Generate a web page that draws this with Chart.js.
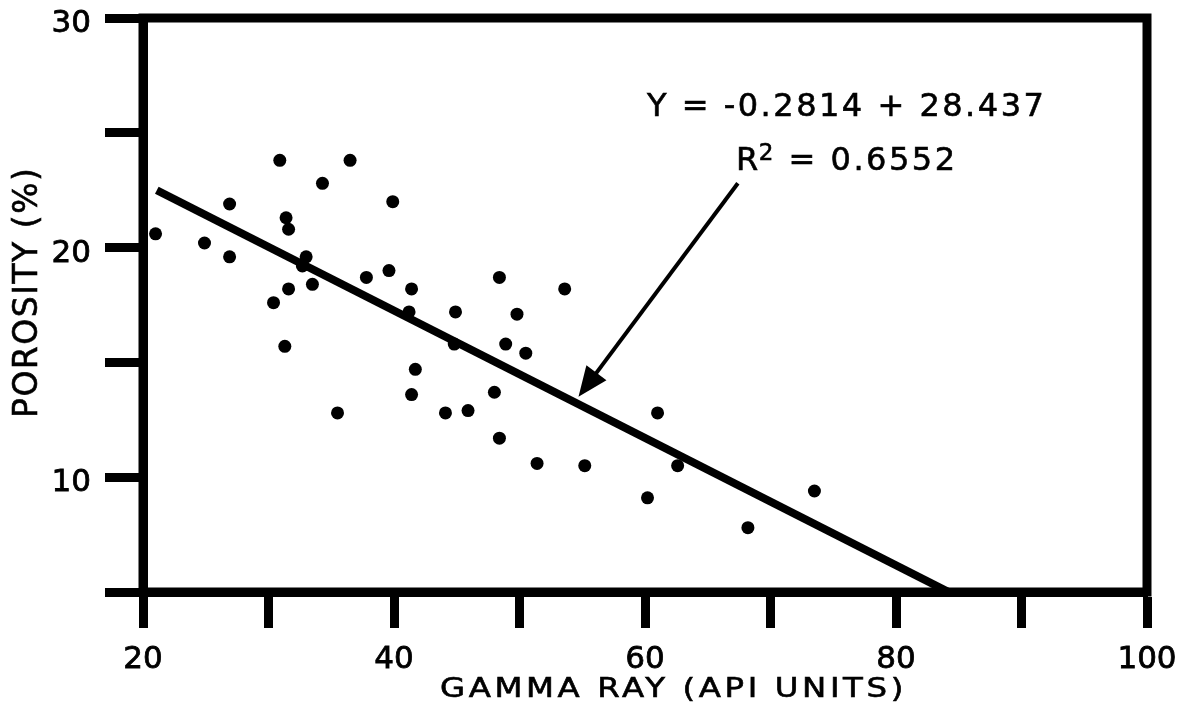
<!DOCTYPE html>
<html>
<head>
<meta charset="utf-8">
<script src="https://cdn.jsdelivr.net/npm/chart.js@4.4.1/dist/chart.umd.min.js"></script>
<style>
  html,body{margin:0;padding:0;background:#fff;}
  #wrap{width:1193px;height:728px;}
</style>
</head>
<body>
<div id="wrap"><canvas id="chart" width="1193" height="728"></canvas></div>
<script>
/* DATA: gamma ray (API units) vs porosity (%) */
const gammaRay = [21.0, 24.9, 26.9, 26.9, 30.9, 31.4, 31.6, 33.0, 32.7, 33.5,
                  31.6, 30.4, 31.3, 34.3, 36.5, 35.5, 37.8, 39.6, 39.9, 41.4,
                  41.2, 41.7, 41.4, 44.9, 44.8, 44.1, 45.9, 48.4, 49.8, 48.9,
                  50.5, 48.0, 48.4, 53.6, 51.4, 55.2, 61.0, 62.6, 60.2, 68.2, 73.5];
const porosity = [20.6, 20.2, 21.9, 19.6, 23.8, 21.3, 20.8, 19.6, 19.2, 18.4,
                  18.2, 17.6, 15.7, 22.8, 23.8, 12.8, 18.7, 19.0, 22.0, 18.2,
                  17.2, 14.7, 13.6, 17.2, 15.8, 12.8, 12.9, 18.7, 17.1, 15.8,
                  15.4, 13.7, 11.7, 18.2, 10.6, 10.5, 12.8, 10.5, 9.1, 7.8, 9.4];

/* regression line end points */
const fitX = [21.1, 84.2];
const fitY = [22.5, 5.0];

/* arrow from the label to the line */
const arrowX = [67.4, 54.7];
const arrowY = [22.8, 13.5];

/* ticks */
const xTicks = [20, 40, 60, 80, 100];
const yTicks = [10, 20, 30];

const equationText = 'Y = -0.2814 + 28.437';
const r2Value = '0.6552';
const xTitle = 'GAMMA RAY (API UNITS)';
const yTitle = 'POROSITY (%)';

const FONT = "'DejaVu Sans', 'Liberation Sans', sans-serif";

const points = gammaRay.map((x,i)=> ({x, y: porosity[i]}));
const fitLine = fitX.map((x,i)=> ({x, y: fitY[i]}));

/* frame, arrow and texts */
const annot = {
  id: 'annot',
  afterDatasetsDraw(chart){
    const ctx = chart.ctx, xs = chart.scales.x, ys = chart.scales.y;
    const x0 = xs.getPixelForValue(arrowX[0]), y0 = ys.getPixelForValue(arrowY[0]);
    const x1 = xs.getPixelForValue(arrowX[1]), y1 = ys.getPixelForValue(arrowY[1]);
    const ang = Math.atan2(y1 - y0, x1 - x0);
    const headLen = 30, headHalf = 12.5;
    ctx.save();
    ctx.strokeStyle = '#000';
    ctx.fillStyle = '#000';
    ctx.lineWidth = 4;
    ctx.beginPath();
    ctx.moveTo(x0, y0);
    ctx.lineTo(x1 - Math.cos(ang)*headLen*0.8, y1 - Math.sin(ang)*headLen*0.8);
    ctx.stroke();
    ctx.beginPath();
    ctx.moveTo(x1, y1);
    ctx.lineTo(x1 - Math.cos(ang)*headLen - Math.sin(ang)*headHalf, y1 - Math.sin(ang)*headLen + Math.cos(ang)*headHalf);
    ctx.lineTo(x1 - Math.cos(ang)*headLen + Math.sin(ang)*headHalf, y1 - Math.sin(ang)*headLen - Math.cos(ang)*headHalf);
    ctx.closePath();
    ctx.fill();
    ctx.restore();
  },
  afterDraw(chart){
    const ctx = chart.ctx, a = chart.chartArea;
    ctx.save();
    // frame
    ctx.strokeStyle = '#000';
    ctx.lineWidth = 9;
    ctx.lineJoin = 'miter';
    ctx.strokeRect(a.left, a.top, a.right - a.left, a.bottom - a.top);

    ctx.fillStyle = '#000';
    ctx.strokeStyle = '#000';
    ctx.lineWidth = 0.6;
    ctx.textBaseline = 'alphabetic';
    ctx.textAlign = 'left';
    const put = (t, x, y)=>{ ctx.fillText(t, x, y); ctx.strokeText(t, x, y); };

    // equation
    ctx.font = `32px ${FONT}`;
    ctx.letterSpacing = '2.5px';
    put(equationText, 647, 116);

    // R^2 line
    let x = 736;
    put('R', x, 170);
    x += ctx.measureText('R').width - 2;
    ctx.font = `23px ${FONT}`;
    put('2', x, 160);
    x += ctx.measureText('2').width;
    ctx.font = `32px ${FONT}`;
    put(' = ' + r2Value, x, 170);

    // x title, glyphs a little wider as in the print
    ctx.save();
    ctx.font = `27px ${FONT}`;
    ctx.letterSpacing = '3px';
    ctx.translate(440, 697);
    ctx.scale(1.2, 1);
    put(xTitle, 0, 0);
    ctx.restore();

    // y title
    ctx.font = `33px ${FONT}`;
    ctx.letterSpacing = '1.5px';
    ctx.translate(37, 418);
    ctx.rotate(-Math.PI/2);
    put(yTitle, 0, 0);
    ctx.restore();
  }
};

new Chart(document.getElementById('chart'), {
  data: {
    datasets: [
      {
        type: 'scatter',
        data: points,
        pointRadius: 6.5,
        pointBackgroundColor: '#000',
        pointBorderWidth: 0,
        order: 2
      },
      {
        type: 'line',
        data: fitLine,
        borderColor: '#000',
        borderWidth: 8,
        borderCapStyle: 'butt',
        pointRadius: 0,
        fill: false,
        order: 1
      }
    ]
  },
  options: {
    responsive: false,
    animation: false,
    layout: {padding: {top: 18, right: 46, left: 0, bottom: 0}},
    plugins: {legend: {display: false}, tooltip: {enabled: false}},
    scales: {
      x: {
        type: 'linear',
        min: 20, max: 100,
        afterFit: s => { s.height = 136; s.paddingLeft = 0; s.paddingRight = 0; },
        border: {display: true, color: '#000', width: 9},
        grid: {drawOnChartArea: false, drawTicks: true, tickLength: 36, tickWidth: 9, tickColor: '#000'},
        ticks: {
          stepSize: 10,
          padding: 13,
          color: '#000',
          textStrokeColor: '#000',
          textStrokeWidth: 0.8,
          font: {family: FONT, size: 31},
          callback: v => xTicks.includes(v) ? String(v) : ''
        }
      },
      y: {
        type: 'linear',
        min: 5, max: 30,
        afterFit: s => { s.width = 143; s.paddingTop = 0; s.paddingBottom = 0; },
        border: {display: true, color: '#000', width: 9},
        grid: {drawOnChartArea: false, drawTicks: true, tickLength: 38, tickWidth: 9, tickColor: '#000'},
        ticks: {
          stepSize: 5,
          padding: 14,
          labelOffset: 6,
          color: '#000',
          textStrokeColor: '#000',
          textStrokeWidth: 0.8,
          font: {family: FONT, size: 31},
          callback: v => yTicks.includes(v) ? String(v) : ''
        }
      }
    }
  },
  plugins: [annot]
});
</script>
</body>
</html>
